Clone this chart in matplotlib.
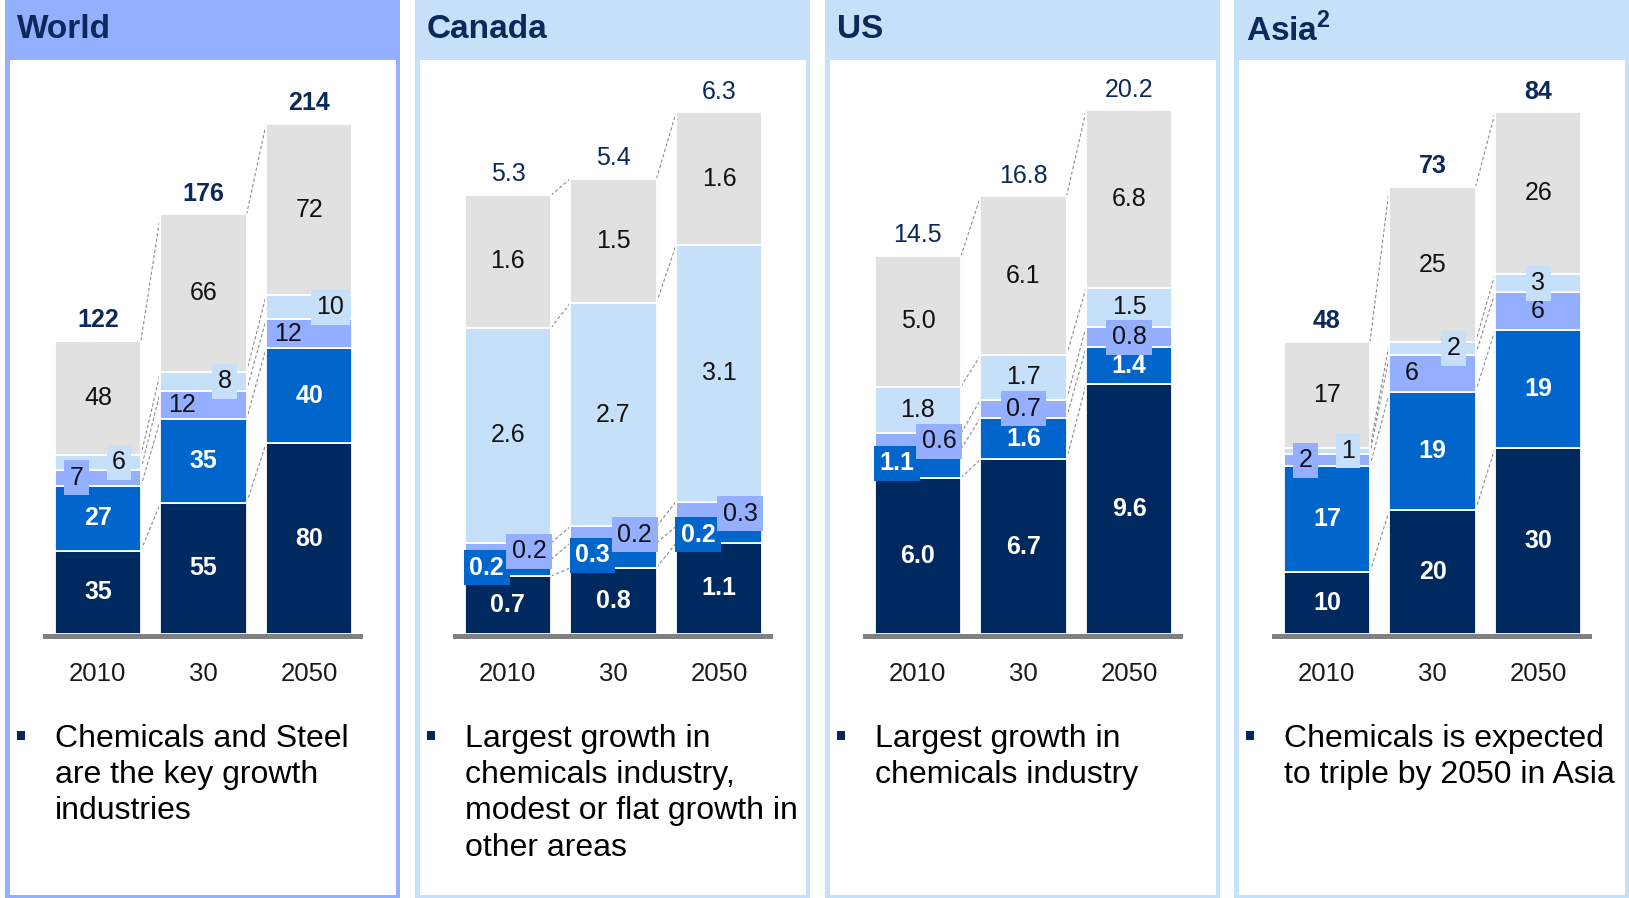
import matplotlib.pyplot as plt
import matplotlib.transforms as mtransforms
from matplotlib.patches import Rectangle

plt.rcParams['font.family'] = ['Liberation Sans', 'DejaVu Sans']
plt.rcParams['mathtext.fontset'] = 'custom'
plt.rcParams['mathtext.rm'] = 'Liberation Sans'
plt.rcParams['mathtext.bf'] = 'Liberation Sans:bold'

W, H = 1629, 898

regions = ['World', 'Canada', 'US', r'Asia$^{\mathbf{2}}$']
years = ['2010', '30', '2050']

# stacked segments, bottom to top (dark navy, blue, periwinkle, light blue, grey)
world = [[35, 27, 7, 6, 48], [55, 35, 12, 8, 66], [80, 40, 12, 10, 72]]
canada = [[0.7, 0.2, 0.2, 2.6, 1.6], [0.8, 0.3, 0.2, 2.7, 1.5], [1.1, 0.2, 0.3, 3.1, 1.6]]
us = [[6.0, 1.1, 0.6, 1.8, 5.0], [6.7, 1.6, 0.7, 1.7, 6.1], [9.6, 1.4, 0.8, 1.5, 6.8]]
asia = [[10, 17, 2, 1, 17], [20, 19, 6, 2, 25], [30, 19, 6, 3, 26]]

world_tot = ['122', '176', '214']
canada_tot = ['5.3', '5.4', '6.3']
us_tot = ['14.5', '16.8', '20.2']
asia_tot = ['48', '73', '84']

notes = [
    'Chemicals and Steel\nare the key growth\nindustries',
    'Largest growth in\nchemicals industry,\nmodest or flat growth in\nother areas',
    'Largest growth in\nchemicals industry',
    'Chemicals is expected\nto triple by 2050 in Asia',
]

# label placement: c=centre, l/r=side, upper case = with a coloured box
world_pos = [['c', 'c', 'L', 'R', 'c'], ['c', 'c', 'l', 'R', 'c'], ['c', 'c', 'l', 'R', 'c']]
canada_pos = [['c', 'L', 'R', 'c', 'c'], ['c', 'L', 'R', 'c', 'c'], ['c', 'L', 'R', 'c', 'c']]
us_pos = [['c', 'L', 'R', 'c', 'c'], ['c', 'c', 'C', 'c', 'c'], ['c', 'c', 'C', 'c', 'c']]
asia_pos = [['c', 'c', 'L', 'R', 'c'], ['c', 'c', 'l', 'R', 'c'], ['c', 'c', 'c', 'C', 'c']]

navy = '#002960'
seg_colors = [navy, '#0066CC', '#94AFFF', '#C6E0FA', '#E1E1E1']
seg_text = ['white', 'white', '#111111', '#111111', '#111111']
seg_weight = ['bold', 'bold', 'normal', 'normal', 'normal']
header_colors = ['#93AFFF', '#C6E0FA', '#C6E0FA', '#C6E0FA']
title_color = '#0B2A5B'

panels = [
    (world, world_tot, world_pos, '{:.0f}', True, 224),
    (canada, canada_tot, canada_pos, '{:.1f}', False, 6.45),
    (us, us_tot, us_pos, '{:.1f}', False, 20.5),
    (asia, asia_tot, asia_pos, '{:.0f}', True, 86),
]
panel_left = [5, 415, 825, 1234]
panel_w = 395

fig = plt.figure(figsize=(W / 100, H / 100), dpi=100)


def box(x0, y0, x1, y1, color, z=0):
    fig.add_artist(Rectangle((x0 / W, 1 - y1 / H), (x1 - x0) / W, (y1 - y0) / H,
                             transform=fig.transFigure, fc=color, ec='none', zorder=z))


bw = 0.815
for p, (vals, tots, pos, fmt, tot_bold, ymax) in enumerate(panels):
    pl = panel_left[p]
    box(pl, 0, pl + panel_w, H, header_colors[p])
    box(pl + 5, 60, pl + panel_w - 4, H - 3, 'white')
    fig.text((pl + 12) / W, 1 - 30 / H, regions[p], fontsize=24, weight='bold',
             color=title_color, va='center', ha='left')

    ax = fig.add_axes([(pl + 38) / W, 1 - 634 / H, 320 / W, 534 / H])
    ax.set_xlim(-0.52, 2.51)
    ax.set_ylim(0, ymax)
    ax.axis('off')

    cums = []
    for j, seg in enumerate(vals):
        bottom = 0
        tops = []
        for k, v in enumerate(seg):
            ax.bar(j, v, bw, bottom=bottom, color=seg_colors[k], edgecolor='white',
                   linewidth=1.3, zorder=2)
            code = pos[j][k]
            dx = {'c': 0, 'l': -0.2, 'r': 0.2}[code.lower()]
            bb = dict(boxstyle='square,pad=0.22', fc=seg_colors[k], ec='none') if code.isupper() else None
            ax.text(j + dx, bottom + v / 2, fmt.format(v), ha='center', va='center',
                    fontsize=18, color=seg_text[k], weight=seg_weight[k], bbox=bb, zorder=5)
            bottom += v
            tops.append(bottom)
        cums.append(tops)
        ax.annotate(tots[j], (j, bottom), xytext=(0, 15), textcoords='offset points',
                    ha='center', va='center', fontsize=18, color=title_color,
                    weight='bold' if tot_bold else 'normal')

    for j in range(2):
        for k in range(5):
            ax.plot([j + bw / 2, j + 1 - bw / 2], [cums[j][k], cums[j + 1][k]],
                    color='#8C8C8C', lw=0.8, ls=(0, (3, 2)), zorder=1)

    # grey base line
    ax.add_patch(Rectangle((0, -5 / 534), 1, 5 / 534, transform=ax.transAxes,
                           fc='#808080', ec='none', clip_on=False, zorder=1))

    trans = mtransforms.blended_transform_factory(ax.transData, ax.transAxes)
    for j, yr in enumerate(years):
        ax.text(j, -40 / 534, yr, transform=trans, ha='center', va='center',
                fontsize=18.5, color='#1A1A1A')

    # bullet note
    box(pl + 12, 731, pl + 20, 740, navy, z=3)
    fig.text((pl + 50) / W, 1 - 724 / H, notes[p], fontsize=23, color='black',
             ha='left', va='top', linespacing=1.27)

fig.savefig('out.png', dpi=100)
